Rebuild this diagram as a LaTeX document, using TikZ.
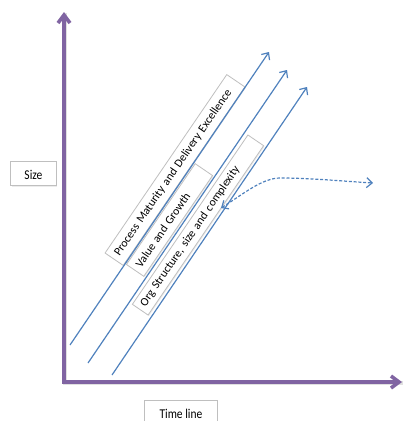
\documentclass[tikz,border=0pt]{standalone}
\usepackage{fontspec}
\setmainfont{Carlito}
\usetikzlibrary{arrows.meta,shadows}
\definecolor{axispurple}{HTML}{8064A2}
\definecolor{lineblue}{HTML}{4F81BD}
\definecolor{boxgray}{HTML}{BFBFBF}

\begin{document}
\begin{tikzpicture}[x=1pt,y=-1pt,
  axisbarb/.tip={Straight Barb[length=8pt,width=12pt]},
  linebarb/.tip={Straight Barb[length=5.5pt,width=10pt]},
  axis/.style={draw=axispurple, line width=3.6pt, line join=miter, axisbarb-axisbarb},
  axisshade/.style={draw=black!12, line width=3.6pt},
  trend/.style={draw=lineblue, line width=1.2pt, -linebarb},
  outlook/.style={draw=lineblue, line width=1.2pt, dash pattern=on 3pt off 1.8pt, linebarb-linebarb},
  slant/.style={draw=boxgray, line width=0.8pt, fill=white, rotate=55.7,
    inner xsep=5pt, inner ysep=0pt, align=left,
    font=\fontsize{11.7}{13}\selectfont,
    drop shadow={shadow xshift=0.9pt, shadow yshift=-0.9pt, fill=black!15}},
  tag/.style={draw=boxgray, line width=0.9pt, fill=white, inner ysep=0pt,
    anchor=base west, font=\fontsize{11.5}{13}\selectfont,
    drop shadow={shadow xshift=0.9pt, shadow yshift=-0.9pt, fill=black!15}}
]
\useasboundingbox (0,0) rectangle (403,421);
\clip (0,0) rectangle (403,421);

% axis corner and tips
\coordinate (origin) at (64,382);
\coordinate (ytip) at (64,12);
\coordinate (xtip) at (402,382);

% faint shade under the axes
\draw[axisshade] ([shift={(1.2,1.2)}]ytip) -- ([shift={(1.2,1.2)}]origin) -- ([shift={(1.2,1.2)}]xtip);
\draw[axis] (ytip) -- (origin) -- (xtip);

% axis captions
\node[tag, inner xsep=8pt, minimum width=45.4pt, text height=17.6pt, text depth=6.4pt]
  (size) at (10.3,179.3) {\scalebox{1}[1.17]{Size}};
\node[tag, inner xsep=6.7pt, minimum width=72.4pt, text height=17.3pt, text depth=14pt]
  (time) at (144.3,418) {\scalebox{1}[1.17]{Time line}};

% slanted labels
\node[slant, text width=206pt, minimum height=22pt] (pm) at (175,170)
  {Process Maturity and Delivery Excellence};
\node[slant, text width=112pt, minimum height=21pt] (vg) at (169.5,220)
  {Value and Growth};
\node[slant, text width=195pt, minimum height=19pt] (os) at (198,225)
  {Org Structure, size and complexity};

% growth lines
\coordinate (t1s) at (70,345);  \coordinate (t1e) at (269,52);
\coordinate (t2s) at (88,363);  \coordinate (t2e) at (287,70);
\coordinate (t3s) at (112,375); \coordinate (t3e) at (307,87);
\draw[trend] (t1s) -- (t1e);
\draw[trend] (t2s) -- (t2e);
\draw[trend] (t3s) -- (t3e);

% levelling-off outlook
\coordinate (ds) at (221,208);
\coordinate (dm) at (280,178);
\coordinate (de) at (373,183);
\draw[outlook] (ds) .. controls (242,195) and (262,178) .. (dm)
  .. controls (310,178) and (340,181) .. (de);
\end{tikzpicture}
\end{document}
